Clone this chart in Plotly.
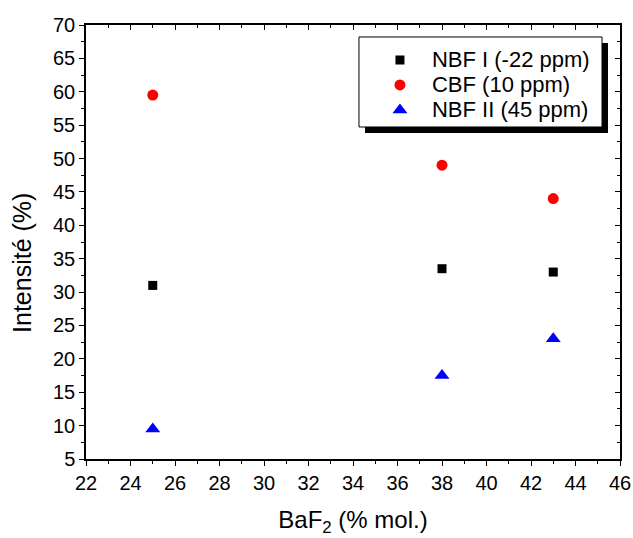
import plotly.graph_objects as go

baf2 = [25, 38, 43]
nbf1 = [31, 33.5, 33]
cbf = [59.5, 49, 44]
nbf2 = [9.5, 17.5, 23]

names = ["NBF I (-22 ppm)", "CBF (10 ppm)", "NBF II (45 ppm)"]
colors = ["black", "red", "blue"]
symbols = ["square", "circle", "triangle-up"]
sizes = [9, 11, 13]

x_title = "BaF<sub>2</sub> (% mol.)"
y_title = "Intensité (%)"

FONT = "Liberation Sans, Arial, sans-serif"
TICK_FS = 20

fig = go.Figure()
for vals, n, c, s, sz in zip([nbf1, cbf, nbf2], names, colors, symbols, sizes):
    fig.add_trace(go.Scatter(x=baf2, y=vals, mode="markers",
                             name='<span style="font-size:22px">' + n + "</span>",
                             marker=dict(color=c, symbol=s, size=sz, line=dict(width=0))))

# dummy trace so the mirrored (inside-tick) axes are drawn
fig.add_trace(go.Scatter(x=[None], y=[None], xaxis="x2", yaxis="y2", showlegend=False, hoverinfo="skip"))

line_style = dict(showgrid=False, zeroline=False, showline=True, linecolor="black", linewidth=1.5,
                  automargin=False)

fig.update_layout(
    width=633, height=538,
    margin=dict(l=86, r=13, t=25, b=79),
    paper_bgcolor="white", plot_bgcolor="white",
    font=dict(family=FONT, color="black"),
    xaxis=dict(range=[22, 46], dtick=2, tick0=22, ticks="outside", ticklen=5, tickwidth=1.2,
               tickcolor="black", tickfont=dict(family=FONT, size=TICK_FS, color="black"),
               minor=dict(ticks="outside", ticklen=3, dtick=1, tickwidth=1.2, tickcolor="black"),
               title=dict(text=x_title, font=dict(family=FONT, size=24), standoff=18),
               **line_style),
    yaxis=dict(range=[5, 70], dtick=5, tick0=5, ticks="outside", ticklen=5, tickwidth=1.2,
               tickcolor="black", tickfont=dict(family=FONT, size=TICK_FS, color="black"),
               minor=dict(ticks="outside", ticklen=3, dtick=2.5, tickwidth=1.2, tickcolor="black"),
               **line_style),
    xaxis2=dict(range=[22, 46], dtick=2, tick0=22, ticks="inside", ticklen=5, tickwidth=1.2,
                tickcolor="black",
                minor=dict(ticks="inside", ticklen=3, dtick=1, tickwidth=1.2, tickcolor="black"),
                overlaying="x", side="top", anchor="y", showticklabels=False, **line_style),
    yaxis2=dict(range=[5, 70], dtick=5, tick0=5, ticks="inside", ticklen=5, tickwidth=1.2,
                tickcolor="black",
                minor=dict(ticks="inside", ticklen=3, dtick=2.5, tickwidth=1.2, tickcolor="black"),
                overlaying="y", side="right", anchor="x", showticklabels=False, **line_style),
    legend=dict(x=0.528, y=0.861, xanchor="left", yanchor="middle",
                bgcolor="rgba(0,0,0,0)", borderwidth=0,
                font=dict(family=FONT, size=17, color="black"),
                tracegroupgap=0, itemwidth=54),
    showlegend=True,
)

# y-axis title (placed as in the reference, slightly below centre)
fig.add_annotation(text=y_title, textangle=-90, xref="paper", yref="paper",
                   x=-0.12, y=0.4516, xanchor="center", yanchor="middle", showarrow=False,
                   font=dict(family=FONT, size=25, color="black"))

# legend drop shadow and box
fig.add_shape(type="rect", xref="paper", yref="paper",
              x0=0.5225, x1=0.9775, y0=0.7512, y1=0.9585,
              fillcolor="black", line=dict(width=0), layer="above")
fig.add_shape(type="rect", xref="paper", yref="paper",
              x0=0.5112, x1=0.9663, y0=0.765, y1=0.9724,
              fillcolor="white", line=dict(width=1, color="black"), layer="above")

fig.write_html("out.html", config={"displayModeBar": False},
               post_script="document.body.style.margin='0';document.body.style.overflow='hidden';")
